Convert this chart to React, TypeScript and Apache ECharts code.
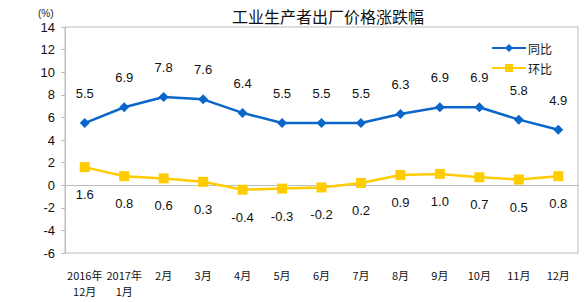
import React, { useEffect, useRef } from "react";
import * as echarts from "echarts";

const months = ["2016年\n12月", "2017年\n1月", "2月", "3月", "4月", "5月", "6月", "7月", "8月", "9月", "10月", "11月", "12月"];
const yoy = [5.5, 6.9, 7.8, 7.6, 6.4, 5.5, 5.5, 5.5, 6.3, 6.9, 6.9, 5.8, 4.9];
const mom = [1.6, 0.8, 0.6, 0.3, -0.4, -0.3, -0.2, 0.2, 0.9, 1.0, 0.7, 0.5, 0.8];

const BLUE = "#0a67c9";
const YELLOW = "#ffcc00";
const FONT = "Liberation Sans, Arial, sans-serif";
const CJK = "Noto Sans CJK SC, sans-serif";

export default function App() {
  const ref = useRef<HTMLDivElement>(null);
  useEffect(() => {
    if (!ref.current) return;
    const chart = echarts.init(ref.current, undefined, { renderer: "svg" });
    chart.setOption({
      animation: false,
      backgroundColor: "#ffffff",
      title: {
        text: "工业生产者出厂价格涨跌幅",
        left: 227,
        top: 3,
        textStyle: { fontSize: 16, fontWeight: "normal", color: "#111", fontFamily: CJK },
      },
      graphic: [
        {
          type: "text",
          left: 38,
          top: 8,
          style: { text: "(%)", fontSize: 10, fill: "#222", fontFamily: FONT },
        },
        {
          type: "rect",
          shape: { x: 65, y: 27, width: 513, height: 226 },
          style: { fill: "none", stroke: "#bdbdbd", lineWidth: 1 },
          silent: true,
        },
      ],
      legend: {
        orient: "vertical",
        right: 28,
        top: 37,
        itemGap: 8,
        itemWidth: 34,
        itemHeight: 10,
        textStyle: { fontSize: 12, color: "#111", fontFamily: CJK, padding: [0, 0, 0, -3] },
        data: ["同比", "环比"],
      },
      grid: { left: 65, right: 7, top: 27, bottom: 49 },
      xAxis: {
        type: "category",
        data: months,
        boundaryGap: true,
        axisLine: { lineStyle: { color: "#bdbdbd" } },
        axisTick: { inside: true, length: 5, lineStyle: { color: "#bdbdbd" } },
        axisLabel: { fontSize: 11, color: "#111", margin: 14, lineHeight: 16, fontFamily: CJK, interval: 0 },
      },
      yAxis: {
        type: "value",
        min: -6,
        max: 14,
        interval: 2,
        splitLine: { show: false },
        axisLine: { show: true, lineStyle: { color: "#bdbdbd" } },
        axisTick: { show: true, length: 4, lineStyle: { color: "#bdbdbd" } },
        axisLabel: { fontSize: 13, color: "#111", margin: 10, fontFamily: FONT },
      },
      series: [
        {
          name: "同比",
          type: "line",
          data: yoy,
          color: BLUE,
          symbol: "diamond",
          symbolSize: 10,
          lineStyle: { width: 2.5, color: BLUE },
          itemStyle: { color: BLUE },
          label: {
            show: true,
            position: "top",
            distance: 18,
            fontSize: 13,
            color: "#111",
            fontFamily: FONT,
            formatter: (p: any) => p.value.toFixed(1),
          },
        },
        {
          name: "环比",
          type: "line",
          data: mom,
          color: YELLOW,
          symbol: "rect",
          symbolSize: 10,
          lineStyle: { width: 2.5, color: YELLOW },
          itemStyle: { color: YELLOW },
          label: {
            show: true,
            position: "bottom",
            distance: 16,
            fontSize: 13,
            color: "#111",
            fontFamily: FONT,
            formatter: (p: any) => p.value.toFixed(1),
          },
        },
      ],
    });
    return () => chart.dispose();
  }, []);
  return <div ref={ref} style={{ width: 585, height: 302, position: "absolute", left: 0, top: 0 }} />;
}
